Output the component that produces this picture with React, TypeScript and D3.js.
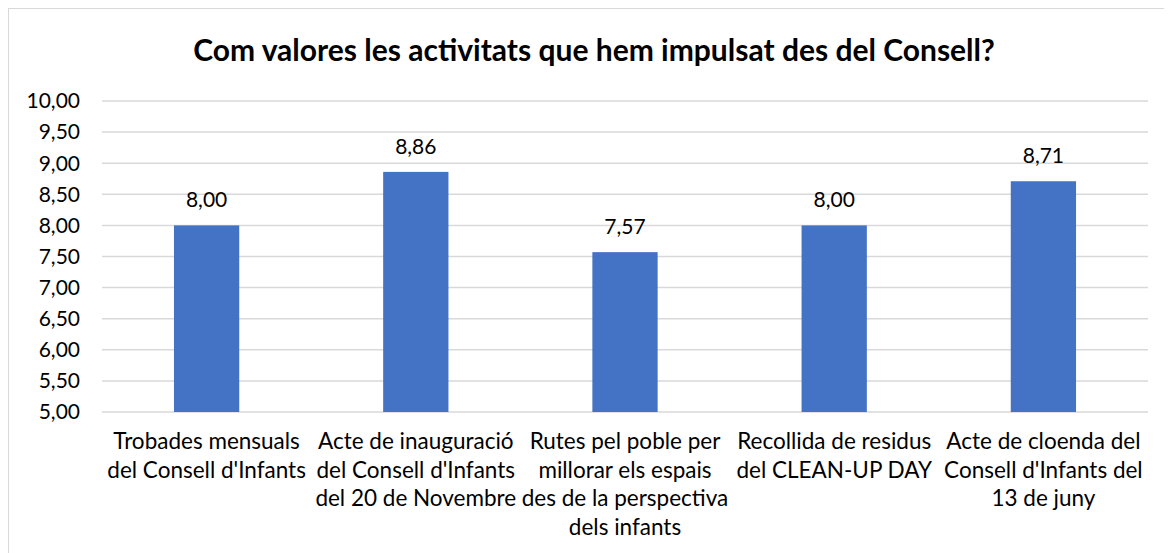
import * as d3 from "d3";

const title = "Com valores les activitats que hem impulsat des del Consell?";
const categories = [
  ["Trobades mensuals", "del Consell d'Infants"],
  ["Acte de inauguració", "del Consell d'Infants", "del 20 de Novembre"],
  ["Rutes pel poble per", "millorar els espais", "des de la perspectiva", "dels infants"],
  ["Recollida de residus", "del CLEAN-UP DAY"],
  ["Acte de cloenda del", "Consell d'Infants del", "13 de juny"],
];
const values = [8.0, 8.86, 7.57, 8.0, 8.71];
const yTicks = [5, 5.5, 6, 6.5, 7, 7.5, 8, 8.5, 9, 9.5, 10];

const W = 1164;
const H = 545;
const FONT = "Lato, 'Open Sans', sans-serif";

const fmt = d3.formatLocale({ decimal: ",", thousands: ".", grouping: [3], currency: ["", "€"] }).format(".2f");

export default function App() {
  const x = d3.scaleBand<number>()
    .domain(values.map((_, i) => i))
    .range([94, 1140])
    .paddingInner(0.688)
    .paddingOuter(0.344);
  const y = d3.scaleLinear().domain([5, 10]).range([404, 93]);

  return (
    <svg width={W} height={H} style={{ display: "block", fontFamily: FONT }}>
      <rect x={0.5} y={0.5} width={1173} height={560} fill="#fff" stroke="#d9d9d9" />
      <text x={586} y={53} textAnchor="middle" fontSize={30} fontWeight="bold" fill="#000">
        {title}
      </text>
      {yTicks.map(t => (
        <g key={t}>
          <line x1={94} x2={1140} y1={y(t)} y2={y(t)} stroke="#d9d9d9" strokeWidth={1.5} />
          <text x={72} y={y(t)} dy="0.35em" textAnchor="end" fontSize={21} fill="#000">
            {fmt(t)}
          </text>
        </g>
      ))}
      {values.map((v, i) => (
        <g key={i}>
          <rect x={x(i)} y={y(v)} width={x.bandwidth()} height={y(5) - y(v)} fill="#4472C4" />
          <text x={x(i)! + x.bandwidth() / 2} y={y(v) - 18} textAnchor="middle" fontSize={21} fill="#000">
            {fmt(v)}
          </text>
          <text textAnchor="middle" fontSize={22.5} fill="#000">
            {categories[i].map((line, j) => (
              <tspan key={j} x={x(i)! + x.bandwidth() / 2} y={441 + j * 28.7}>{line}</tspan>
            ))}
          </text>
        </g>
      ))}
    </svg>
  );
}
